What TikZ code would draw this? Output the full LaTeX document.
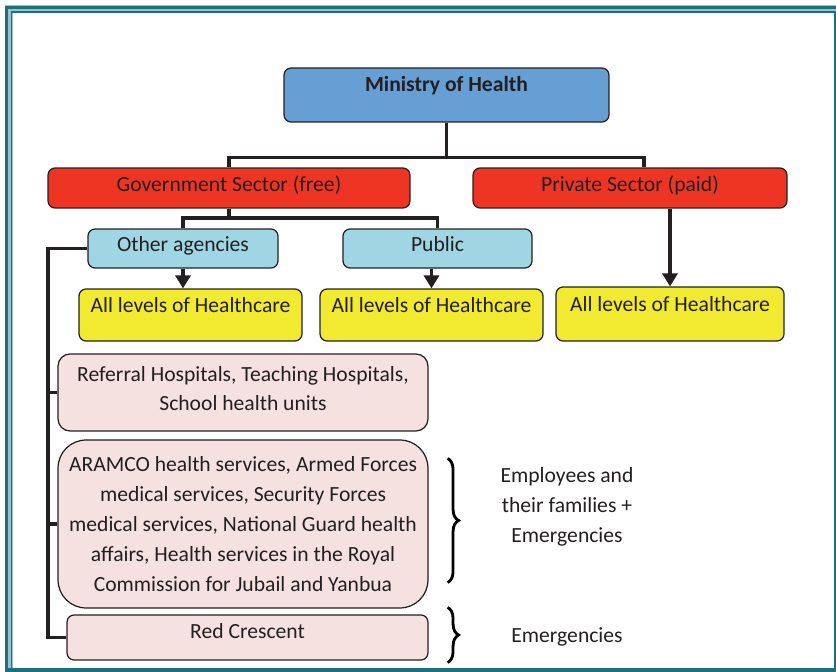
\documentclass[tikz,border=0pt]{standalone}
\usepackage{fontspec}
\setmainfont{Carlito}
\usepackage{tikz}
\usepackage{xcolor}
\usetikzlibrary{positioning,calc,arrows.meta,decorations.pathreplacing}
\definecolor{mohBlue}{RGB}{101,159,212}
\definecolor{sectorRed}{RGB}{238,53,36}
\definecolor{agencyBlue}{RGB}{160,214,227}
\definecolor{careYellow}{RGB}{242,234,48}
\definecolor{unitPink}{RGB}{246,225,225}
\definecolor{frameTeal}{RGB}{31,110,126}
\definecolor{frameLight}{RGB}{156,195,203}
\definecolor{inkGray}{RGB}{35,31,32}

\begin{document}
\begin{tikzpicture}[x=0.02cm,y=-0.02cm,
    font=\fontsize{12.3pt}{17pt}\selectfont, text=inkGray,
    box/.style={draw=inkGray, line width=0.7pt, rounded corners=0.14cm, inner sep=0pt},
    conn/.style={draw=inkGray, line width=2.1pt},
    arr/.style={conn, -{Triangle[length=0.26cm,width=0.3cm]}},
    brc/.style={draw=black, line width=1.6pt, decorate, decoration={brace, amplitude=0.22cm}}]
    \useasboundingbox (0,0) rectangle (836,672);

    % frame
    \draw[frameLight, line width=0.16cm] (9,672) -- (9,9.5) -- (836,9.5);
    \draw[frameTeal, line width=0.06cm] (6.5,672) -- (6.5,7.5) -- (836,7.5);
    \draw[frameTeal, line width=0.04cm] (11.5,670) -- (11.5,12.5) -- (834.5,12.5) -- (834.5,670);
    \draw[frameTeal, line width=0.08cm] (8,670) -- (836,670);

    % top levels
    \node[box, fill=mohBlue, minimum width=6.5cm, minimum height=1.08cm, text height=0.28cm, text depth=0.4cm] (moh) at (446.5,95) {\textbf{Ministry of Health}};
    \node[box, fill=sectorRed, minimum width=7.24cm, minimum height=0.8cm, text height=0.28cm, text depth=0.12cm] (gov) at (229,188) {Government Sector (free)};
    \node[box, fill=sectorRed, minimum width=6.28cm, minimum height=0.8cm, text height=0.28cm, text depth=0.12cm] (priv) at (630,188) {Private Sector (paid)};

    \node[box, fill=agencyBlue, minimum width=3.8cm, minimum height=0.78cm, text height=0.28cm, text depth=0.14cm] (other) at (183,248.5) {Other agencies};
    \node[box, fill=agencyBlue, minimum width=3.78cm, minimum height=0.78cm, text height=0.28cm, text depth=0.14cm] (pub) at (437.5,248.5) {Public};

    \node[box, fill=careYellow, minimum width=4.46cm, minimum height=1.04cm, text height=0.28cm, text depth=0.36cm] (care1) at (190.5,315) {All levels of Healthcare};
    \node[box, fill=careYellow, minimum width=4.46cm, minimum height=1.04cm, text height=0.28cm, text depth=0.36cm] (care2) at (431.5,315) {All levels of Healthcare};
    \node[box, fill=careYellow, minimum width=4.56cm, minimum height=1.08cm, text height=0.28cm, text depth=0.36cm] (care3) at (670,314) {All levels of Healthcare};

    % other agencies list
    \node[box, fill=unitPink, rounded corners=0.24cm, minimum width=7.4cm, minimum height=1.54cm, align=center] (referral) at (243,392.5) {Referral Hospitals, Teaching Hospitals,\\School health units\\[-0.44cm]};
    \node[box, fill=unitPink, rounded corners=0.56cm, minimum width=7.4cm, minimum height=3.36cm, align=center] (aramco) at (243,524) {ARAMCO health services, Armed Forces\\medical services, Security Forces\\medical services, National Guard health\\affairs, Health services in the Royal\\Commission for Jubail and Yanbua};
    \node[box, fill=unitPink, minimum width=7.22cm, minimum height=0.9cm, text height=0.28cm, text depth=0.22cm] (redcr) at (247.5,637.5) {Red Crescent};

    % connectors
    \draw[conn] (moh.south) -- (moh.south |- 0,158);
    \draw[conn] (gov.north) |- ($(priv.north)+(14,-10)$) -- ($(priv.north)+(14,0)$);
    \draw[conn] (gov.south) -- (gov.south |- 0,218);
    \draw[conn] (other.north) |- (pub.north |- 0,218) -- (pub.north);
    \draw[arr] (other.south) -- (other.south |- care1.north);
    \draw[arr] (care2.north |- pub.south) -- (care2.north);
    \draw[arr] (care3.north |- priv.south) -- (care3.north);
    \draw[conn] (other.west) -| (redcr.west -| 48,0) -- (redcr.west);
    \draw[conn] (referral.west -| 48,0) -- (referral.west);
    \draw[conn] (aramco.west -| 48,0) -- (aramco.west);

    % braces
    \draw[brc] ($(aramco.north east)+(19,19)$) -- ($(aramco.south east)+(19,-26)$);
    \draw[brc] ($(redcr.north east)+(19,-7)$) -- ($(redcr.south east)+(19,2)$);
    \node[align=center] (famtext) at (567,507) {Employees and\\their families +\\Emergencies};
    \node (emtext) at (567,637) {Emergencies};
\end{tikzpicture}
\end{document}
